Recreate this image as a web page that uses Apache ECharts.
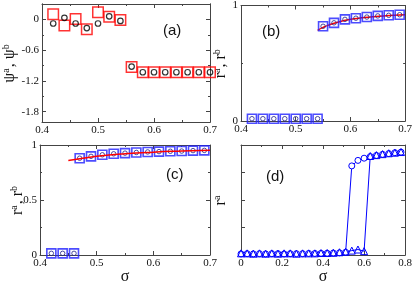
<!DOCTYPE html>
<html><head><meta charset="utf-8">
<script src="https://cdn.jsdelivr.net/npm/echarts@6/dist/echarts.min.js"></script>
<style>html,body{margin:0;padding:0;background:#fff}#c{width:415px;height:286px}</style>
</head><body><div id="c"></div>
<script>
// ---------- data ----------
const aSigma = [0.42,0.44,0.46,0.48,0.50,0.52,0.54,0.56,0.58,0.60,0.62,0.64,0.66,0.68,0.70];
const aPsiA  = [0.10,-0.12,0.01,-0.19,0.14,0.05,-0.01,-0.93,-1.03,-1.03,-1.03,-1.03,-1.03,-1.03,-1.03];
const aPsiB  = [-0.08,0.03,-0.08,-0.17,-0.08,0.06,-0.03,-0.92,-1.03,-1.03,-1.03,-1.03,-1.03,-1.03,-1.03];
const aYLabels = [-1.8,-1.2,-0.6,0];
const aYMinor  = [-1.5,-0.9,-0.3];

const bSigma = [0.42,0.44,0.46,0.48,0.50,0.52,0.54,0.55,0.57,0.59,0.61,0.63,0.65,0.67,0.69];
const bR     = [0.02,0.02,0.02,0.02,0.02,0.02,0.02,0.82,0.85,0.88,0.89,0.90,0.91,0.915,0.92];
const bFitSigma = [0.54,0.55,0.56,0.58,0.60,0.62,0.64,0.66,0.68,0.70];
const bFitR     = [0.785,0.81,0.83,0.86,0.88,0.893,0.902,0.91,0.915,0.92];

const cSigma = [0.42,0.44,0.46,0.47,0.49,0.51,0.53,0.55,0.57,0.59,0.61,0.63,0.65,0.67,0.69];
const cR     = [0.015,0.015,0.015,0.88,0.897,0.911,0.92,0.926,0.932,0.937,0.94,0.943,0.945,0.949,0.951];
const cFitSigma = [0.45,0.47,0.50,0.55,0.60,0.65,0.70];
const cFitR     = [0.86,0.875,0.897,0.92,0.935,0.945,0.953];

const dSigma = [0,0.03,0.06,0.09,0.12,0.15,0.18,0.21,0.24,0.27,0.30,0.33,0.36,0.39,0.42,0.45,0.48,0.51,0.54,0.57,0.60,0.63,0.66,0.69,0.72,0.75,0.78];
const dCircle = [0.01,0.012,0.01,0.012,0.01,0.012,0.012,0.01,0.012,0.012,0.012,0.014,0.014,0.015,0.016,0.018,0.02,0.025,
                 0.81,0.86,0.88,0.895,0.905,0.915,0.922,0.93,0.935];
const dTriangle = [0.015,0.015,0.012,0.015,0.012,0.015,0.012,0.015,0.015,0.012,0.015,0.015,0.015,0.018,0.018,0.02,0.025,0.03,0.04,0.05,0.035,
                   0.90,0.908,0.917,0.925,0.93,0.936];

// ---------- helpers ----------
const LINE = '#444';
const SERIF = 'Liberation Serif';
const zip = (xs, ys) => xs.map((x, i) => [x, ys[i]]);

function xAx(g, min, max, interval, pos, showLabel, name) {
  return {
    gridIndex: g, type: 'value', min, max, interval, position: pos,
    axisLine: { onZero: false, lineStyle: { color: LINE, width: 1 } },
    axisTick: { inside: true, length: 4, lineStyle: { color: LINE } },
    minorTick: { show: true, splitNumber: 2, length: 2, lineStyle: { color: LINE } },
    splitLine: { show: false }, minorSplitLine: { show: false },
    axisLabel: { show: showLabel, fontFamily: SERIF, fontSize: 11, color: '#111', margin: 3,
                 showMinLabel: true, showMaxLabel: true, hideOverlap: false },
    name: name || '', nameLocation: 'middle', nameGap: 14, nameMoveOverlap: false,
    nameTextStyle: { fontFamily: SERIF, fontSize: 16, color: '#111' }
  };
}
function yAx(g, min, max, interval, pos, showLabel, name, nameGap, rich, minorSplit) {
  return {
    gridIndex: g, type: 'value', min, max, interval, position: pos,
    axisLine: { onZero: false, lineStyle: { color: LINE, width: 1 } },
    axisTick: { inside: true, length: 4, lineStyle: { color: LINE } },
    minorTick: { show: minorSplit > 1, splitNumber: minorSplit || 2, length: 2, lineStyle: { color: LINE } },
    splitLine: { show: false }, minorSplitLine: { show: false },
    axisLabel: { show: showLabel, fontFamily: SERIF, fontSize: 11, color: '#111', margin: 3,
                 showMinLabel: true, showMaxLabel: true, hideOverlap: false },
    name: name || '', nameLocation: 'middle', nameRotate: 90, nameGap: nameGap || 10, nameMoveOverlap: false,
    nameTextStyle: { fontFamily: SERIF, fontSize: 16, color: '#111', rich: rich || {} }
  };
}
const richR = {
  n: { fontFamily: SERIF, fontSize: 16, color: '#111', lineHeight: 18 },
  s: { fontFamily: SERIF, fontSize: 10, color: '#111', lineHeight: 18, verticalAlign: 'top', padding: [0, 1, 8, 0] }
};

const grids = [
  { left: 40, top: 4, width: 170, height: 118 },
  { left: 241, top: 4, width: 167, height: 117 },
  { left: 40, top: 145, width: 170, height: 117 },
  { left: 241, top: 145, width: 167, height: 117 }
];

const xAxes = [
  xAx(0, 0.4, 0.7, 0.1, 'bottom', true),
  xAx(0, 0.4, 0.7, 0.1, 'top', false),
  xAx(1, 0.4, 0.7, 0.1, 'bottom', true),
  xAx(1, 0.4, 0.7, 0.1, 'top', false),
  xAx(2, 0.4, 0.7, 0.1, 'bottom', true, 'σ'),
  xAx(2, 0.4, 0.7, 0.1, 'top', false),
  xAx(3, 0, 0.8, 0.2, 'bottom', true, 'σ'),
  xAx(3, 0, 0.8, 0.2, 'top', false)
];

// panel (a) y axes: custom major ticks + custom minor ticks, both sides
function aY(pos, showLabel, vals, len, withName) {
  const ax = yAx(0, -2.0, 0.3, null, pos, showLabel,
    withName ? '{n|ψ}{s|a}{n|, ψ}{s|b}' : '', 23, richR, 0);
  delete ax.interval;
  ax.axisTick = { inside: true, length: len, customValues: vals, lineStyle: { color: LINE } };
  ax.axisLabel.customValues = vals;
  ax.minorTick = { show: false };
  return ax;
}
const yAxes = [
  aY('left', true, aYLabels, 4, true),      // 0
  aY('left', false, aYMinor, 2, false),     // 1
  aY('right', false, aYLabels, 4, false),   // 2
  aY('right', false, aYMinor, 2, false),    // 3
  yAx(1, 0, 1, 1, 'left', true, '{n|r}{s|a}{n|, r}{s|b}', 11, richR, 2),   // 4
  yAx(1, 0, 1, 1, 'right', false, '', 10, richR, 2),                        // 5
  yAx(2, 0, 1, 0.5, 'left', true, '{n|r}{s|a}{n|, r}{s|b}', 13, richR, 2), // 6
  yAx(2, 0, 1, 0.5, 'right', false, '', 10, richR, 2),                      // 7
  yAx(3, 0, 1, 0.25, 'left', false, '{n|r}{s|a}', 11, richR, 0),            // 8
  yAx(3, 0, 1, 0.25, 'right', false, '', 10, richR, 0)                      // 9
];

const hollow = (c, w) => ({ color: 'rgba(0,0,0,0)', borderColor: c, borderWidth: w });

const series = [
  // (a)
  { type: 'scatter', xAxisIndex: 0, yAxisIndex: 0, data: zip(aSigma, aPsiA), symbol: 'rect', symbolSize: 10.5, itemStyle: hollow('#ff0000', 1.5) },
  { type: 'scatter', xAxisIndex: 0, yAxisIndex: 0, data: zip(aSigma, aPsiB), symbol: 'circle', symbolSize: 5.5, itemStyle: hollow('#000', 1.2) },
  // (b)
  { type: 'scatter', xAxisIndex: 2, yAxisIndex: 4, data: zip(bSigma, bR), symbol: 'rect', symbolSize: 9, itemStyle: hollow('#1f1fff', 1.6) },
  { type: 'scatter', xAxisIndex: 2, yAxisIndex: 4, data: zip(bSigma, bR), symbol: 'circle', symbolSize: 4.5, itemStyle: hollow('#22228a', 1) },
  { type: 'line', xAxisIndex: 2, yAxisIndex: 4, data: zip(bFitSigma, bFitR), smooth: true, showSymbol: false, symbol: 'none', lineStyle: { color: '#ff0000', width: 1.5 }, z: 1 },
  // (c)
  { type: 'scatter', xAxisIndex: 4, yAxisIndex: 6, data: zip(cSigma, cR), symbol: 'rect', symbolSize: 9, itemStyle: hollow('#1f1fff', 1.6) },
  { type: 'scatter', xAxisIndex: 4, yAxisIndex: 6, data: zip(cSigma, cR), symbol: 'circle', symbolSize: 4.5, itemStyle: hollow('#22228a', 1) },
  { type: 'line', xAxisIndex: 4, yAxisIndex: 6, data: zip(cFitSigma, cFitR), smooth: true, showSymbol: false, symbol: 'none', lineStyle: { color: '#ff0000', width: 1.5 }, z: 3 },
  // (d)
  { type: 'line', xAxisIndex: 6, yAxisIndex: 8, data: zip(dSigma, dCircle), symbol: 'circle', symbolSize: 6, showAllSymbol: true,
    lineStyle: { color: '#0000ff', width: 1 }, itemStyle: { color: '#fff', borderColor: '#0000ff', borderWidth: 1 } },
  { type: 'line', xAxisIndex: 6, yAxisIndex: 8, data: zip(dSigma, dTriangle), symbol: 'triangle', symbolSize: 7, showAllSymbol: true,
    lineStyle: { color: '#0000ff', width: 1 }, itemStyle: { color: 'rgba(255,255,255,0)', borderColor: '#0000ff', borderWidth: 1 } }
];

const lbl = (x, y, t) => ({ type: 'text', left: x, top: y, style: { text: t, fontFamily: 'Liberation Sans', fontSize: 15, fill: '#111' } });

const chart = echarts.init(document.getElementById('c'), null, { renderer: 'canvas' });
chart.setOption({
  animation: false,
  backgroundColor: '#fff',
  grid: grids,
  xAxis: xAxes,
  yAxis: yAxes,
  series: series,
  graphic: [lbl(163, 23, '(a)'), lbl(262, 24, '(b)'), lbl(166, 167, '(c)'), lbl(266, 169, '(d)')]
});
</script></body></html>
